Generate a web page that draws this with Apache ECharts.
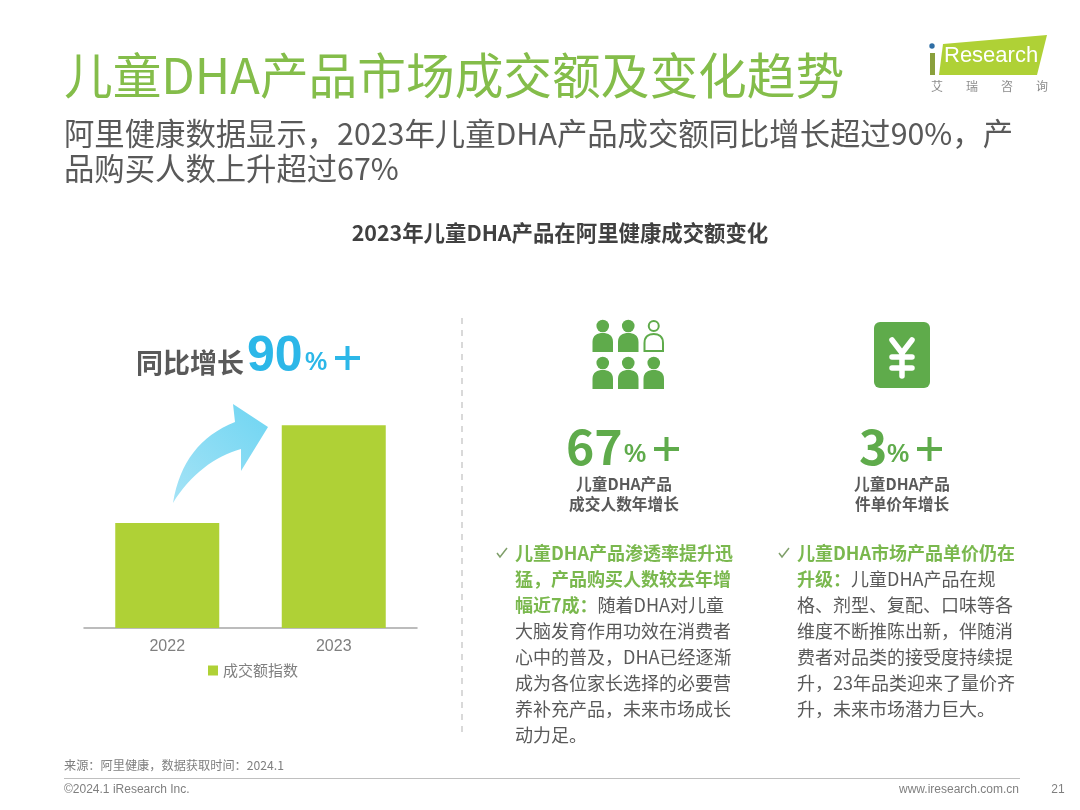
<!DOCTYPE html>
<html><head><meta charset="utf-8">
<style>html,body{margin:0;padding:0;background:#fff}#c{width:1080px;height:810px}</style>
<script src="https://cdn.jsdelivr.net/npm/echarts@6/dist/echarts.min.js"></script>
</head><body><div id="c"></div>
<script>
var categories = ['2022', '2023'];
var seriesName = '成交额指数';
var values = [100, 193];
var mainTitle = '儿童DHA产品市场成交额及变化趋势';
var subLines = ['阿里健康数据显示，2023年儿童DHA产品成交额同比增长超过90%，产', '品购买人数上升超过67%'];
var chartTitle = '2023年儿童DHA产品在阿里健康成交额变化';
var leftLead = ['儿童DHA产品渗透率提升迅', '猛，产品购买人数较去年增', '幅近7成：'];
var leftBody = ['随着DHA对儿童', '大脑发育作用功效在消费者', '心中的普及，DHA已经逐渐', '成为各位家长选择的必要营', '养补充产品，未来市场成长', '动力足。'];
var rightLead = ['儿童DHA市场产品单价仍在', '升级：'];
var rightBody = ['儿童DHA产品在规', '格、剂型、复配、口味等各', '维度不断推陈出新，伴随消', '费者对品类的接受度持续提', '升，23年品类迎来了量价齐', '升，未来市场潜力巨大。'];
var kpiLabelsA = ['儿童DHA产品', '成交人数年增长'];
var kpiLabelsB = ['儿童DHA产品', '件单价年增长'];
var sourceText = '来源：阿里健康，数据获取时间：2024.1';
var copyText = '©2024.1 iResearch Inc.';
var siteText = 'www.iresearch.com.cn';
var pageNo = '21';

var CJK = '"Noto Sans CJK SC","Noto Sans",sans-serif';
var LAT = '"Liberation Sans",Arial,sans-serif';
var GREEN = '#5fab4b', LIME = '#afd136', HEAD = '#84bd4a', GRAY = '#595959', BLUE = '#2cb7e8';

function T(text, x, y, size, fill, o) {
  o = o || {};
  return {type: 'text', silent: true, z: 10, style: {
    x: x, y: y, text: text, fill: fill, align: o.align || 'left', verticalAlign: 'middle',
    fontFamily: o.family || CJK, fontSize: size, fontWeight: o.weight || 'normal', opacity: o.opacity == null ? 1 : o.opacity
  }};
}
function R(x, y, w, h, fill, r) {
  return {type: 'rect', silent: true, shape: {x: x, y: y, width: w, height: h, r: r || 0}, style: {fill: fill}};
}
var pathId = 0;
function P(d, style) {
  var name = 'customPath' + (pathId++);
  echarts.graphic.registerShape(name, echarts.graphic.extendPath(d));
  return {type: name, silent: true, style: style};
}
function person(x, headY, outline) {
  var w = 20.5, top = headY + 7, h = 19;
  if (outline) { x += 1; w -= 2; top += 1; h -= 2; }
  var d = 'M' + x + ' ' + (top + h) + 'L' + x + ' ' + (top + 9) + 'C' + x + ' ' + (top + 2) + ' ' + (x + 5) + ' ' + top + ' ' + (x + w / 2) + ' ' + top +
    'C' + (x + w - 5) + ' ' + top + ' ' + (x + w) + ' ' + (top + 2) + ' ' + (x + w) + ' ' + (top + 9) + 'L' + (x + w) + ' ' + (top + h) + 'Z';
  var st = outline ? {fill: '#fff', stroke: GREEN, lineWidth: 2} : {fill: GREEN};
  return [
    {type: 'circle', silent: true, shape: {cx: x + w / 2, cy: headY, r: outline ? 5 : 6.3}, style: st},
    P(d, st)
  ];
}
function bullet(lead, body, x, y) {
  var lines = [], n = lead.length, i;
  for (i = 0; i < n - 1; i++) lines.push('{g|' + lead[i] + '}');
  lines.push('{g|' + lead[n - 1] + '}{t|' + body[0] + '}');
  for (i = 1; i < body.length; i++) lines.push('{t|' + body[i] + '}');
  return {type: 'text', silent: true, z: 10, style: {
    x: x, y: y, text: lines.join('\n'), align: 'left', verticalAlign: 'top',
    rich: {
      g: {fontFamily: CJK, fontSize: 18, fontWeight: 'bold', fill: '#7ab84e', lineHeight: 26},
      t: {fontFamily: CJK, fontSize: 18, fill: GRAY, lineHeight: 26}
    }
  }};
}
function check(x, y) {
  return {type: 'polyline', silent: true, shape: {points: [[x, y + 5], [x + 3, y + 9], [x + 10, y]]}, style: {stroke: '#7f9f6a', lineWidth: 1.5, fill: null}};
}

var g = [];
// header
g.push(T(mainTitle, 64, 75, 48.7, HEAD));
g.push(T(subLines[0], 64, 133, 30.35, GRAY));
g.push(T(subLines[1], 64, 168, 30.35, GRAY));
g.push(T(chartTitle, 560, 233, 21.4, '#404040', {align: 'center', weight: 'bold'}));
// logo
g.push({type: 'polygon', silent: true, shape: {points: [[943, 44], [1047, 35], [1037, 75], [939, 75]]}, style: {fill: LIME}});
g.push({type: 'circle', silent: true, shape: {cx: 932, cy: 46, r: 2.7}, style: {fill: '#2f6ea5'}});
g.push({type: 'polygon', silent: true, shape: {points: [[930, 53], [935, 53], [935, 75], [930, 75]]}, style: {fill: '#8aa03c'}});
g.push(T('Research', 944, 56, 22, '#fff', {family: LAT}));
['艾', '瑞', '咨', '询'].forEach(function (c, i) { g.push(T(c, 937 + i * 35, 86, 12, '#8c8c8c', {align: 'center'})); });
// arrow
g.push(P('M173 503C180 462 200 436 235 422L233 404L268 427L241 471L241 449C215 456 190 475 173 503Z',
  {fill: {type: 'linear', x: 0, y: 1, x2: 1, y2: 0, colorStops: [{offset: 0, color: '#a5e3f6'}, {offset: 1, color: '#6fd5f2'}]}}));
// left heading
g.push(T('同比增长', 136, 363, 27, GRAY, {weight: 'bold'}));
g.push(T('90', 247, 357, 50, BLUE, {weight: 'bold', family: LAT}));
g.push(T('%', 305, 363, 25, BLUE, {family: LAT, weight: 'bold'}));
g.push(R(335, 356, 25, 4, BLUE));
g.push(R(345.5, 346, 4, 24, BLUE));
// divider
g.push({type: 'line', silent: true, shape: {x1: 462, y1: 318, x2: 462, y2: 738}, style: {stroke: '#d9d9d9', lineWidth: 2, lineDash: [6, 6]}});
// people icon
[592.5, 618, 643.5].forEach(function (x, i) {
  g = g.concat(person(x, 326, i === 2));
  g = g.concat(person(x, 363, false));
});
// yuan icon
g.push(R(874, 322, 56, 66, GREEN, 6));
[[[892, 340], [902, 353], [912, 340]], [[892, 357], [912, 357]], [[892, 368], [912, 368]], [[902, 353], [902, 376]]].forEach(function (p) {
  g.push({type: 'polyline', silent: true, z: 5, shape: {points: p}, style: {stroke: '#fff', lineWidth: 5.5, lineCap: 'round', lineJoin: 'round', fill: null}});
});
// KPIs
g.push(T('67', 566, 447, 48, GREEN, {weight: 'bold', family: CJK}));
g.push(T('%', 624, 455, 25, GREEN, {family: LAT, weight: 'bold'}));
g.push(R(654, 447, 25, 4, GREEN));
g.push(R(664.5, 437, 4, 24, GREEN));
g.push(T('3', 859, 447, 48, GREEN, {weight: 'bold', family: CJK}));
g.push(T('%', 887, 455, 25, GREEN, {family: LAT, weight: 'bold'}));
g.push(R(917, 447, 25, 4, GREEN));
g.push(R(927.5, 437, 4, 24, GREEN));
g.push(T(kpiLabelsA[0], 624, 484, 15.7, GRAY, {align: 'center', weight: 'bold'}));
g.push(T(kpiLabelsA[1], 624, 504, 15.7, GRAY, {align: 'center', weight: 'bold'}));
g.push(T(kpiLabelsB[0], 902, 484, 15.7, GRAY, {align: 'center', weight: 'bold'}));
g.push(T(kpiLabelsB[1], 902, 504, 15.7, GRAY, {align: 'center', weight: 'bold'}));
// bullets
g.push(check(497, 548));
g.push(check(779, 548));
g.push(bullet(leftLead, leftBody, 515, 540));
g.push(bullet(rightLead, rightBody, 797, 540));
// footer
g.push(T(sourceText, 64, 765, 12.2, '#7f7f7f'));
g.push({type: 'line', silent: true, shape: {x1: 64, y1: 778.5, x2: 1020, y2: 778.5}, style: {stroke: '#bfbfbf', lineWidth: 1}});
g.push(T(copyText, 64, 790, 12, '#7f7f7f', {family: LAT}));
g.push(T(siteText, 1019, 790, 12, '#7f7f7f', {align: 'right', family: LAT}));
g.push(T(pageNo, 1058, 790, 12, '#7f7f7f', {align: 'center', family: LAT}));

var chart = echarts.init(document.getElementById('c'), null, {renderer: 'canvas'});
chart.setOption({
  animation: false,
  backgroundColor: '#fff',
  grid: {left: 84, width: 333, top: 418, height: 210},
  legend: {
    show: true, left: 203, top: 658, itemWidth: 10, itemHeight: 10, itemGap: 2,
    selectedMode: false, icon: 'rect',
    textStyle: {fontFamily: CJK, fontSize: 15, color: '#7f7f7f'},
    data: [seriesName]
  },
  xAxis: {
    type: 'category', data: categories,
    axisLine: {lineStyle: {color: '#a6a6a6', width: 1.5}},
    axisTick: {show: false},
    axisLabel: {fontFamily: LAT, fontSize: 16, color: '#7f7f7f', margin: 11}
  },
  yAxis: {type: 'value', min: 0, max: 200, show: false, splitLine: {show: false}},
  series: [{
    name: seriesName, type: 'bar', data: values, barWidth: 104,
    itemStyle: {color: LIME}
  }],
  graphic: g
});
</script>
</body></html>
